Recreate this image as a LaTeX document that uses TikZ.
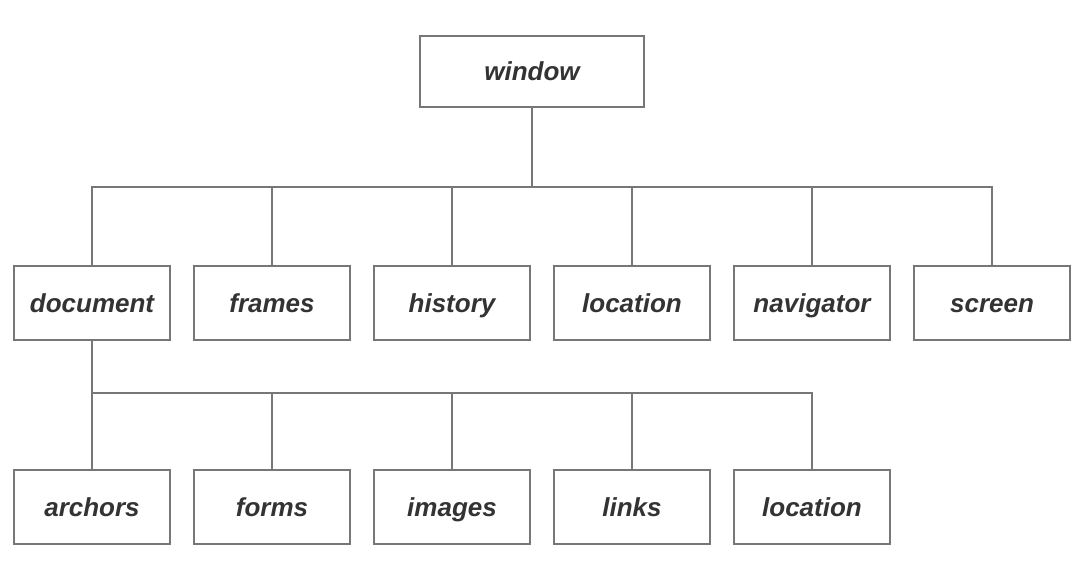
\documentclass[tikz,border=0pt]{standalone}
\usepackage{fontspec}
\setmainfont{Liberation Sans}
\usepackage{tikz}
\usetikzlibrary{
  positioning % for relative placement of the boxes
}
\definecolor{linegray}{HTML}{777777}
\definecolor{textgray}{HTML}{333333}
\tikzset{
  box/.style={ % style for each object box
    rectangle,draw=linegray,line width=2pt,
    inner sep=0pt,
    minimum width=156pt,minimum height=74pt,
    text height=21pt,text depth=3pt, % same baseline in every box
    text=textgray,font=\fontsize{26}{30}\selectfont\bfseries\itshape,
    node distance=128pt and 22pt,
  },
  conn/.style={ % style for the tree lines
    draw=linegray,line width=2pt,
  },
}
\begin{document}
\begin{tikzpicture}[x=1pt,y=1pt]
  \useasboundingbox (0,0) rectangle (1092,-574);
  \node[box,minimum width=224pt,minimum height=71pt] (window) at (532,-71.5) {window};

  \node[box] (document) at (92,-303) {document};
  \node[box,right=of document] (frames) {frames};
  \node[box,right=of frames] (history) {history};
  \node[box,right=of history] (location) {location};
  \node[box,right=of location] (navigator) {navigator};
  \node[box,right=of navigator] (screen) {screen};

  \node[box,below=of document] (archors) {archors};
  \node[box,right=of archors] (forms) {forms};
  \node[box,right=of forms] (images) {images};
  \node[box,right=of images] (links) {links};
  \node[box,right=of links] (doclocation) {location};

  \coordinate[below=79pt of window.south] (bus1);
  \coordinate[below=52pt of document.south] (bus2);

  \draw[conn] (window.south) -- (bus1);
  \foreach \n in {document,frames,history,location,navigator,screen}
    \draw[conn] (bus1) -| (\n.north);

  \draw[conn] (document.south) -- (bus2);
  \foreach \n in {archors,forms,images,links,doclocation}
    \draw[conn] (bus2) -| (\n.north);
\end{tikzpicture}
\end{document}
